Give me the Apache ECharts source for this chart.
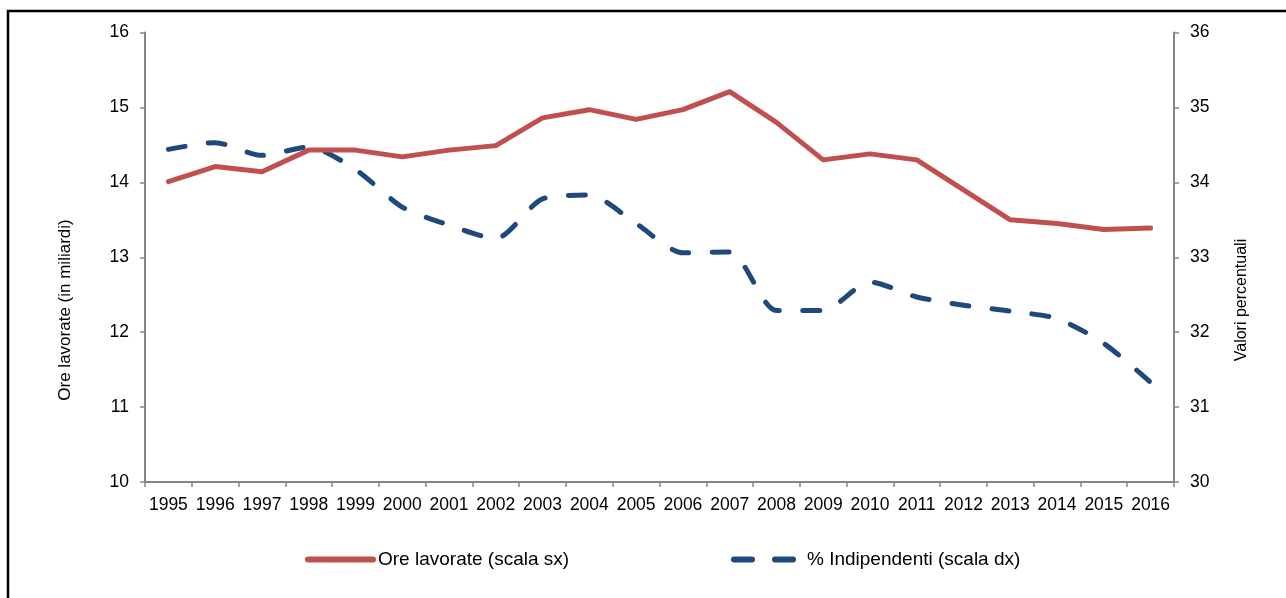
<!DOCTYPE html>
<html>
<head>
<meta charset="utf-8">
<script src="https://cdn.jsdelivr.net/npm/echarts@6/dist/echarts.min.js"></script>
<style>
  html, body { margin: 0; padding: 0; background: #fff; }
  #chart { width: 1286px; height: 598px; }
</style>
</head>
<body>
<div id="chart"></div>
<script>
// Years on the category axis
const years = ['1995','1996','1997','1998','1999','2000','2001','2002','2003','2004','2005',
  '2006','2007','2008','2009','2010','2011','2012','2013','2014','2015','2016'];

// Hours worked, billions (left scale)
const oreLavorate = [14.01, 14.21, 14.14, 14.43, 14.43, 14.34, 14.43, 14.49, 14.86, 14.97, 14.84,
  14.97, 15.21, 14.80, 14.30, 14.38, 14.30, 13.90, 13.50, 13.45, 13.37, 13.39];

// Share of self-employed, percent (right scale)
const indipendenti = [34.44, 34.53, 34.36, 34.47, 34.17, 33.67, 33.43, 33.25, 33.78, 33.83, 33.45,
  33.06, 33.07, 32.29, 32.29, 32.67, 32.47, 32.36, 32.28, 32.18, 31.85, 31.33];

// Tick values for both value axes
const leftTicks = { min: 10, max: 16, interval: 1 };
const rightTicks = { min: 30, max: 36, interval: 1 };

const NAME_ORE = 'Ore lavorate (scala sx)';
const NAME_IND = '% Indipendenti (scala dx)';

const FONT = 'Liberation Sans, Arial, sans-serif';
const AXIS_GREY = '#868686';
const RED = '#C0504D';
const BLUE = '#1F497D';
const DASH = 17;

const chart = echarts.init(document.getElementById('chart'), null, { renderer: 'canvas' });

const valueAxisBase = {
  type: 'value',
  splitLine: { show: false },
  axisLine: { show: true, lineStyle: { color: AXIS_GREY, width: 2 } },
  axisTick: { show: true, length: 5, lineStyle: { color: AXIS_GREY, width: 1.5 } },
  axisLabel: { color: '#000', fontFamily: FONT, fontSize: 17.5, margin: 16 }
};

const legendBase = {
  top: 545,
  itemHeight: 14,
  itemGap: 0,
  selectedMode: false,
  textStyle: { color: '#000', fontFamily: FONT, fontSize: 19 },
  itemStyle: { opacity: 0 }
};

chart.setOption({
  animation: false,
  backgroundColor: '#fff',
  textStyle: { fontFamily: FONT },
  grid: { left: 145, right: 112, top: 32.5, bottom: 116, containLabel: false },
  graphic: [
    {
      type: 'rect',
      shape: { x: 8, y: 11, width: 1400, height: 700 },
      style: { fill: 'none', stroke: '#000', lineWidth: 2.5 },
      silent: true
    },
    {
      type: 'text',
      x: 65, y: 310, rotation: Math.PI / 2,
      style: { text: 'Ore lavorate (in miliardi)', fill: '#000', font: '17px ' + FONT,
               textAlign: 'center', textVerticalAlign: 'middle' }
    },
    {
      type: 'text',
      x: 1242, y: 300, rotation: Math.PI / 2,
      style: { text: 'Valori percentuali', fill: '#000', font: '16px ' + FONT,
               textAlign: 'center', textVerticalAlign: 'middle' }
    }
  ],
  legend: [
    Object.assign({}, legendBase, {
      left: 300,
      itemWidth: 65,
      data: [NAME_ORE],
      lineStyle: { color: RED, width: 6, cap: 'round', type: 'solid' }
    }),
    Object.assign({}, legendBase, {
      left: 726,
      itemWidth: 68,
      data: [NAME_IND],
      lineStyle: { color: BLUE, width: 6, cap: 'round', type: [18, 23] }
    })
  ],
  xAxis: {
    type: 'category',
    data: years,
    boundaryGap: true,
    axisLine: { lineStyle: { color: AXIS_GREY, width: 2 } },
    axisTick: { show: true, length: 5, lineStyle: { color: AXIS_GREY, width: 1.5 } },
    axisLabel: { color: '#000', fontFamily: FONT, fontSize: 17.5, margin: 14, interval: 0 }
  },
  yAxis: [
    Object.assign({}, valueAxisBase, leftTicks, { position: 'left' }),
    Object.assign({}, valueAxisBase, rightTicks, { position: 'right' })
  ],
  series: [
    {
      name: NAME_ORE,
      type: 'line',
      yAxisIndex: 0,
      data: oreLavorate,
      symbol: 'none',
      lineStyle: { color: RED, width: 5, cap: 'round', join: 'round' },
      itemStyle: { color: RED },
      z: 3
    },
    {
      name: NAME_IND,
      type: 'line',
      yAxisIndex: 1,
      data: indipendenti,
      symbol: 'none',
      smooth: 0.25,
      lineStyle: { color: BLUE, width: 5, type: [DASH, 24], cap: 'round', join: 'round' },
      itemStyle: { color: BLUE },
      z: 2
    }
  ]
});

// Stretch the dash period slightly so the dashed line finishes on a dash
const pts = years.map((y, i) => chart.convertToPixel({ xAxisIndex: 0, yAxisIndex: 1 }, [i, indipendenti[i]]));
let len = 0;
for (let i = 1; i < pts.length; i++) {
  len += Math.hypot(pts[i][0] - pts[i - 1][0], pts[i][1] - pts[i - 1][1]);
}
len *= 1.004; // smoothed curve runs a little longer than the polyline
const n = Math.round((len - DASH) / 41);
const period = (len - DASH) / n;
chart.setOption({
  series: [{}, { lineStyle: { type: [DASH, period - DASH] } }]
});
</script>
</body>
</html>
